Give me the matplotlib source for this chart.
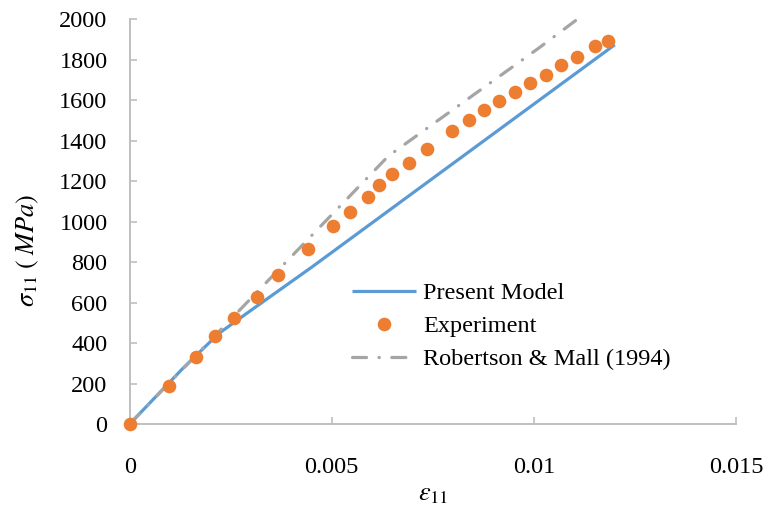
import matplotlib
matplotlib.use("Agg")
import matplotlib.pyplot as plt
from matplotlib.ticker import FixedLocator, FixedFormatter

# Present model (stress-strain response)
model_strain = [0.0, 0.0013, 0.0022, 0.0030, 0.0045, 0.0120]
model_stress = [0.0, 272, 447, 562, 775, 1875]

# Experimental measurements
exp_strain = [0.0, 0.00096, 0.00165, 0.00211, 0.00257, 0.00314, 0.00368, 0.00442,
              0.00502, 0.00545, 0.00589, 0.00616, 0.00648, 0.00690, 0.00735,
              0.00797, 0.00839, 0.00876, 0.00913, 0.00953, 0.00990, 0.01030,
              0.01067, 0.01106, 0.01151, 0.01183]
exp_stress = [0, 186, 329, 433, 522, 626, 738, 864,
              978, 1047, 1121, 1180, 1235, 1289, 1358,
              1447, 1501, 1551, 1595, 1640, 1684, 1728,
              1773, 1817, 1867, 1896]

# Robertson & Mall (1994)
rm_strain = [0.0, 0.0064, 0.01015, 0.0113]
rm_stress = [0.0, 1325, 1863, 2035]

x_ticks = [0, 0.005, 0.01, 0.015]
x_tick_labels = ["0", "0.005", "0.01", "0.015"]
y_ticks = list(range(0, 2001, 200))

plt.rcParams["font.family"] = ["Liberation Serif", "DejaVu Serif"]
plt.rcParams["mathtext.fontset"] = "stix"

fig = plt.figure(figsize=(7.63, 5.05), dpi=100)
ax = fig.add_axes([0.170, 0.1604, 0.7946, 0.801])

blue = "#5B9BD5"
orange = "#ED7D31"
gray = "#A5A5A5"
axis_gray = "#BFBFBF"

ax.plot(model_strain, model_stress, color=blue, lw=2.3, label="Present Model",
        solid_capstyle="butt", zorder=2)
ax.plot(exp_strain, exp_stress, linestyle="none", marker="o", ms=9.8,
        color=orange, markeredgewidth=0, label="Experiment", zorder=3,
        clip_on=False)
ax.plot(rm_strain, rm_stress, color=gray, lw=2.3,
        linestyle=(0, (4.4, 3.9, 0.1, 3.9)), dash_capstyle="round",
        label="Robertson & Mall (1994)", zorder=2)

ax.set_xlim(0, 0.015)
ax.set_ylim(0, 2000)

ax.xaxis.set_major_locator(FixedLocator(x_ticks))
ax.xaxis.set_major_formatter(FixedFormatter(x_tick_labels))
ax.yaxis.set_major_locator(FixedLocator(y_ticks))

for side in ("top", "right"):
    ax.spines[side].set_visible(False)
for side in ("left", "bottom"):
    ax.spines[side].set_color(axis_gray)
    ax.spines[side].set_linewidth(1.4)

ax.tick_params(axis="both", direction="in", length=5, width=1.2,
               color=axis_gray, labelsize=17.5, labelcolor="black")
ax.tick_params(axis="x", pad=24)
ax.tick_params(axis="y", pad=16)

ax.set_xlabel(r"$\varepsilon_{\mathit{11}}$", fontsize=19, va="center")
ax.xaxis.set_label_coords(0.5, -0.175)
ax.set_ylabel(r"$\sigma_{\mathit{11}}\;(\;MPa)$", fontsize=19, va="center")
ax.yaxis.set_label_coords(-0.168, 0.43)

leg = ax.legend(loc="upper left", bbox_to_anchor=(0.366, 0.35), frameon=False,
                fontsize=17.5, handlelength=2.65, handletextpad=0.3,
                labelspacing=0.45, borderpad=0, borderaxespad=0, numpoints=1)

fig.savefig("out.png", dpi=100)
